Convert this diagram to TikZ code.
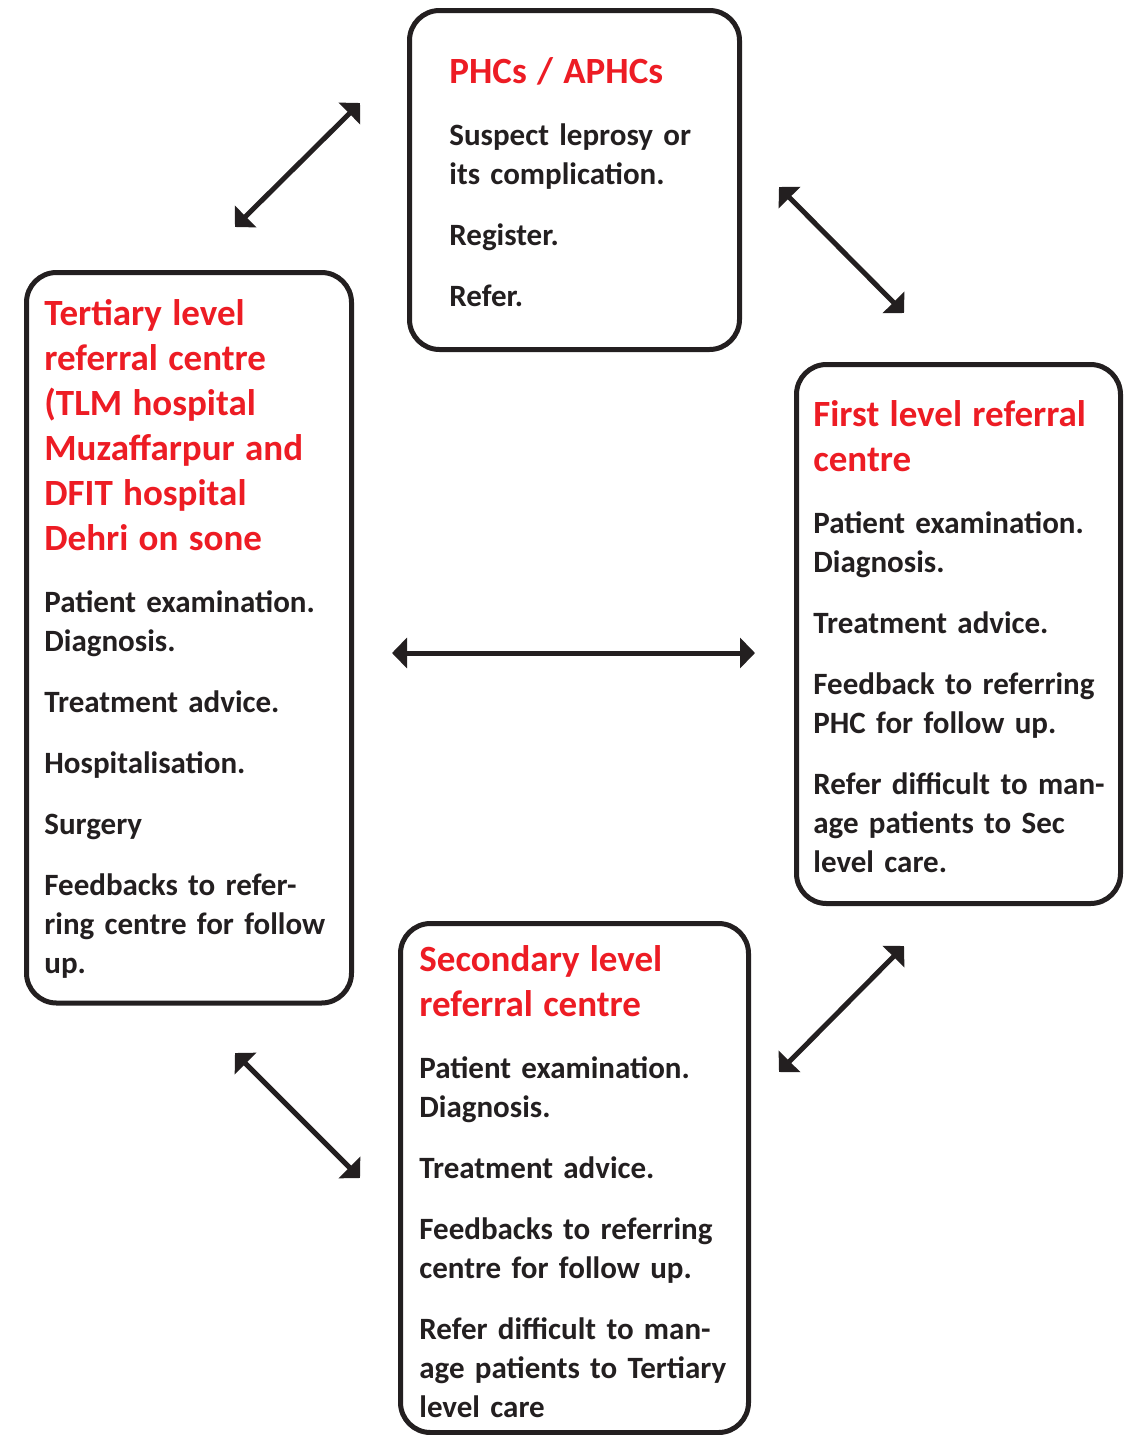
\documentclass[tikz,border=0pt]{standalone}
\usepackage{fontspec}
\setmainfont{Carlito}
\usetikzlibrary{arrows.meta,positioning}
\definecolor{refred}{HTML}{ED1C24}
\definecolor{refink}{HTML}{231F20}
\setlength{\parindent}{0pt}
\newcommand{\boxtitle}[1]{{\leavevmode\color{refred}\fontsize{18.5}{22.5}\selectfont #1\par}\vspace{11.5pt}}
\newcommand{\nextitem}{\par\vspace{11pt}}
\tikzset{
        % Rounded level boxes
        level_box/.style={rectangle, rounded corners=15pt, draw=refink, line width=2.5pt, fill=white, inner sep=0pt},
        % Text inside a level box
        level_text/.style={anchor=base west, inner sep=0pt, text width=200pt, align=left, font=\bfseries\fontsize{15.5}{19.5}\selectfont},
        % Two-headed links between levels
        link_arrow/.style={{Triangle[length=7.5pt,width=15pt]}-{Triangle[length=7.5pt,width=15pt]}, draw=refink, line width=2.5pt}
}
\begin{document}
\begin{tikzpicture}[x=0.5pt, y=-0.5pt, color=refink]
            \useasboundingbox (0,0) rectangle (1131,1435);
            % Boxes
            \node[level_box, minimum width=165pt, minimum height=169.5pt] (phc) at (574.5,180) {};
            \node[level_box, minimum width=162.5pt, minimum height=365.25pt] (tert) at (189,637.75) {};
            \node[level_box, minimum width=162pt, minimum height=269.5pt] (first) at (958.5,634) {};
            \node[level_box, minimum width=174pt, minimum height=254.5pt] (sec) at (574.5,1178) {};
            % Texts
            \node[level_text] (phc_text) at (449,83) {
                \boxtitle{PHCs / APHCs}
                Suspect leprosy or\\its complication.\nextitem
                Register.\nextitem
                Refer.};
            \node[level_text] (tert_text) at (44,325) {
                \boxtitle{Tertiary level\\referral centre\\(TLM hospital\\Muzaffarpur and\\DFIT hospital\\Dehri on sone}
                Patient examination.\\Diagnosis.\nextitem
                Treatment advice.\nextitem
                Hospitalisation.\nextitem
                Surgery\nextitem
                Feedbacks to refer-\\ring centre for follow\\up.};
            \node[level_text] (first_text) at (813,426) {
                \boxtitle{First level referral\\centre}
                Patient examination.\\Diagnosis.\nextitem
                Treatment advice.\nextitem
                Feedback to referring\\PHC for follow up.\nextitem
                Refer difficult to man-\\age patients to Sec\\level care.};
            \node[level_text] (sec_text) at (419,971) {
                \boxtitle{Secondary level\\referral centre}
                Patient examination.\\Diagnosis.\nextitem
                Treatment advice.\nextitem
                Feedbacks to referring\\centre for follow up.\nextitem
                Refer difficult to man-\\age patients to Tertiary\\level care};
            % Arrow ends
            \coordinate (tl_a) at (235,227);
            \coordinate (tl_b) at (360,103);
            \coordinate (tr_a) at (779,187);
            \coordinate (tr_b) at (904,313);
            \coordinate (mid_a) at (392,653);
            \coordinate (mid_b) at (755,653);
            \coordinate (bl_a) at (235,1053);
            \coordinate (bl_b) at (360,1178);
            \coordinate (br_a) at (779,1072);
            \coordinate (br_b) at (904,946);
            % Links
            \draw[link_arrow] (tl_a) -- (tl_b);
            \draw[link_arrow] (tr_a) -- (tr_b);
            \draw[link_arrow] (mid_a) -- (mid_b);
            \draw[link_arrow] (bl_a) -- (bl_b);
            \draw[link_arrow] (br_a) -- (br_b);
\end{tikzpicture}
\end{document}
